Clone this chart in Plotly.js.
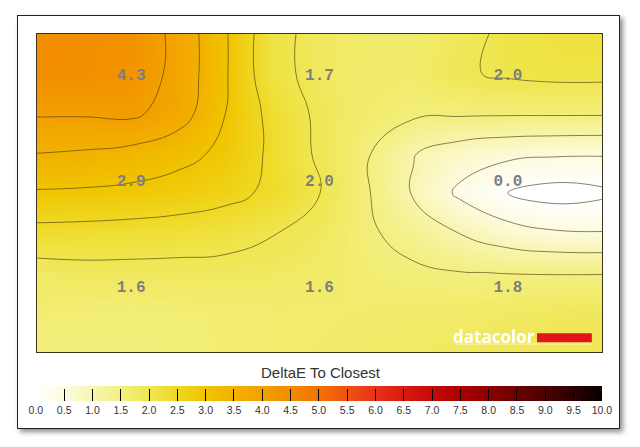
<!DOCTYPE html>
<html>
<head>
<meta charset="utf-8">
<script src="https://cdn.plot.ly/plotly-3.0.1.min.js"></script>
<style>
  html, body { margin:0; padding:0; background:#fff; width:640px; height:447px; overflow:hidden; }
  #frame { position:absolute; left:17px; top:15px; width:601px; height:412px; border:1px solid #222; background:#fff;
           box-shadow: 3px 3px 5px rgba(0,0,0,0.45); }
  #chart { position:absolute; left:0; top:0; width:640px; height:447px; }
</style>
</head>
<body>
<div id="frame"></div>
<div id="chart"></div>
<script>
// Cell labels (3x3 grid of DeltaE values, rows top to bottom)
const cellValues = [
  [4.3, 1.7, 2.0],
  [2.9, 2.0, 0.0],
  [1.6, 1.6, 1.8]
];

// Smoothed field (sample columns / rows across the plot area)
const gridX = [0, 0.25, 0.5, 0.75, 1, 1.25, 1.5, 1.75, 2, 2.25, 2.5, 2.75, 3];
const gridY = [0, 0.375, 0.75, 1.125, 1.5, 1.875, 2.25, 2.625, 3];
const row0 = [4.45, 4.45, 4.38, 3.85, 3.05, 2.15, 1.85, 1.72, 1.72, 1.88, 2.08, 2.18, 2.2];
const row1 = [4.45, 4.42, 4.32, 3.85, 3.05, 2.15, 1.85, 1.72, 1.72, 1.95, 2.06, 2.12, 2.12];
const row2 = [4.05, 4.05, 4.1, 3.75, 3.0, 2.35, 1.9, 1.7, 1.58, 1.56, 1.55, 1.55, 1.55];
const row3 = [3.5, 3.45, 3.35, 3.15, 2.9, 2.4, 1.92, 1.55, 1.02, 0.75, 0.62, 0.57, 0.55];
const row4 = [2.95, 2.93, 2.88, 2.8, 2.65, 2.4, 2.02, 1.55, 0.95, 0.4, 0.0, -0.2, -0.1];
const row5 = [2.35, 2.33, 2.3, 2.25, 2.18, 2.02, 1.85, 1.58, 1.3, 0.98, 0.7, 0.55, 0.52];
const row6 = [1.8, 1.85, 1.85, 1.85, 1.85, 1.82, 1.75, 1.65, 1.58, 1.51, 1.49, 1.48, 1.48];
const row7 = [1.65, 1.62, 1.6, 1.62, 1.65, 1.68, 1.68, 1.7, 1.72, 1.75, 1.8, 1.85, 1.88];
const row8 = [1.55, 1.55, 1.55, 1.6, 1.65, 1.68, 1.7, 1.75, 1.8, 1.85, 1.9, 1.95, 1.97];

// Colour scale stops (value, colour) for the 0-10 DeltaE range
const scaleValues = [0, 0.5, 1, 1.5, 2, 2.5, 3, 3.5, 4, 4.5, 5, 5.5, 6, 6.5, 7, 7.5, 8, 8.5, 9, 9.5, 10];
const scaleColors = ['#FFFFFF', '#FDFBE0', '#F8F5B0', '#F3EF80', '#EFE650', '#EFD822', '#F0C400',
  '#F2B000', '#F2A000', '#F28C00', '#F27200', '#F05214', '#E83218', '#D81A10', '#C40A08',
  '#AC0000', '#8C0000', '#6C0000', '#4C0000', '#2C0000', '#080000'];
const colorbarTitle = 'DeltaE To Closest';
const logoText = 'datacolor';

const zmin = 0, zmax = 10;
const colorscale = scaleValues.map((v, i) => [(v - zmin) / (zmax - zmin), scaleColors[i]]);
const z = [row0, row1, row2, row3, row4, row5, row6, row7, row8];

const labX = [], labY = [], labT = [];
cellValues.forEach((r, ri) => r.forEach((v, ci) => {
  labX.push(ci + 0.5); labY.push(ri + 0.4); labT.push(v.toFixed(1));
}));

const traces = [
  {
    type: 'contour', x: gridX, y: gridY, z: z,
    zmin: zmin, zmax: zmax, colorscale: colorscale, showscale: false,
    autocontour: false,
    contours: { start: 0, end: 4.0, size: 0.5, coloring: 'heatmap', showlabels: false },
    line: { color: 'rgba(70,55,15,0.62)', width: 1, smoothing: 1.3 },
    hoverinfo: 'skip'
  },
  {
    type: 'scatter', mode: 'text', x: labX, y: labY, text: labT,
    textfont: { family: '"Liberation Mono", "Courier New", monospace', size: 16, color: '#7e7e7e', weight: 'bold' },
    hoverinfo: 'skip', showlegend: false
  },
  {
    type: 'scatter', mode: 'markers', x: [null], y: [null], showlegend: false, hoverinfo: 'skip',
    marker: {
      color: [0], cmin: zmin, cmax: zmax, colorscale: colorscale, showscale: true,
      colorbar: {
        orientation: 'h', x: -0.002, xanchor: 'left', y: -0.107, yanchor: 'top',
        lenmode: 'pixels', len: 566, thickness: 15, thicknessmode: 'pixels',
        xpad: 0, ypad: 0, outlinewidth: 0,
        tickmode: 'linear', tick0: 0, dtick: 0.5, tickformat: '.1f',
        ticks: 'inside', ticklen: 12, tickwidth: 1, tickcolor: '#000',
        tickfont: { family: '"Liberation Sans", Arial, sans-serif', size: 10.5, color: '#333' }
      }
    }
  }
];

const layout = {
  width: 640, height: 447,
  margin: { l: 37, r: 38, t: 34, b: 95 },
  paper_bgcolor: 'rgba(0,0,0,0)', plot_bgcolor: '#fff',
  showlegend: false,
  xaxis: { range: [0, 3], tickvals: [1, 2], showticklabels: false, ticks: '', showgrid: true,
           gridcolor: '#c8c8c8', gridwidth: 1, zeroline: false, showline: true, mirror: true,
           linecolor: '#3a3520', linewidth: 1, layer: 'above traces', fixedrange: true },
  yaxis: { range: [3, 0], tickvals: [1, 2], showticklabels: false, ticks: '', showgrid: true,
           gridcolor: '#c8c8c8', gridwidth: 1, zeroline: false, showline: true, mirror: true,
           linecolor: '#3a3520', linewidth: 1, layer: 'above traces', fixedrange: true },
  annotations: [
    { text: colorbarTitle, xref: 'paper', yref: 'paper', x: 0.5035, y: -0.065, xanchor: 'center', yanchor: 'middle',
      showarrow: false, font: { family: '"Liberation Sans", Arial, sans-serif', size: 15, color: '#333' } },
    { text: '<b>' + logoText + '</b>', xref: 'paper', yref: 'paper', x: 0.8845, y: 0.05, xanchor: 'right', yanchor: 'middle',
      showarrow: false, font: { family: '"Open Sans", "DejaVu Sans", sans-serif', size: 17, color: '#ffffff' } }
  ],
  shapes: [
    { type: 'rect', xref: 'paper', yref: 'paper', x0: 0.885, x1: 0.982, y0: 0.031, y1: 0.059,
      fillcolor: '#E2141E', line: { width: 0 } },
    { type: 'line', xref: 'paper', yref: 'paper', x0: 0.741, x1: 0.982, y0: 0.025, y1: 0.025,
      line: { color: 'rgba(255,255,255,0.6)', width: 1 } }
  ]
};

Plotly.newPlot('chart', traces, layout, { displayModeBar: false, staticPlot: true });
</script>
</body>
</html>
